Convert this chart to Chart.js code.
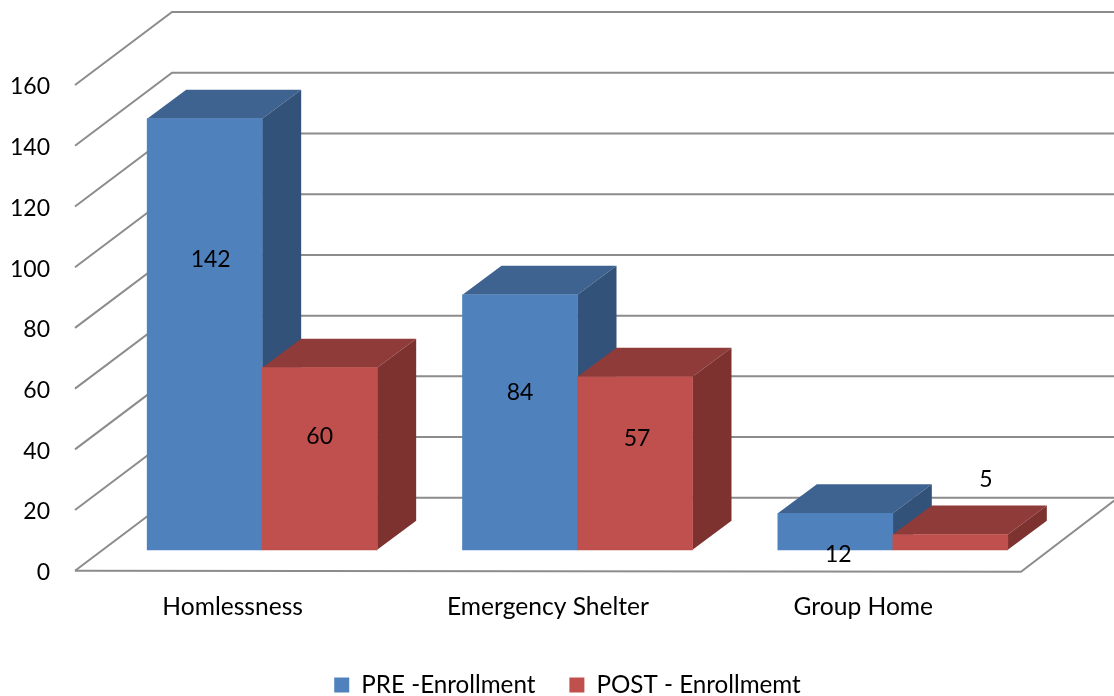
<!DOCTYPE html>
<html>
<head>
<meta charset="utf-8">
<style>
  html, body { margin: 0; padding: 0; background: #fff; overflow: hidden; }
  canvas { display: block; }
</style>
<script src="https://cdn.jsdelivr.net/npm/chart.js@4"></script>
</head>
<body>
<canvas id="chartEnroll" width="1114" height="696"></canvas>
<script>
const categories = ["Homlessness", "Emergency Shelter", "Group Home"];
const preValues = [142, 84, 12];
const postValues = [60, 57, 5];
const seriesNames = ["PRE -Enrollment", "POST - Enrollmemt"];
const tickStep = 20;
const tickMax = 160;

const FONT = "Lato";
const NUM_SIZE = 23;
const TEXT_SIZE = 24.6;
const LEGEND_SIZE = 24.2;
const GRID = "#8c8c8c";

// fake 3d geometry, in px
const WALL_DEPTH = { x: 97, y: -73 };
const BAR_DEPTH = { x: 39, y: -29 };
const BAR_SHIFT = { x: 29.5, y: -21 };

const topColors = ["#3e6390", "#8f3b39"];
const sideColors = ["#335279", "#7d3230"];

// the labels sit where they were dragged by hand in the original
const labelNudge = [
  [[6, -74.5], [0, -29.5], [3, 23]],
  [[0, -22], [2, -24.5], [35.5, -62.5]]
];

function face(ctx, points, color) {
  ctx.fillStyle = color;
  ctx.beginPath();
  points.forEach((p, i) => (i ? ctx.lineTo(p[0], p[1]) : ctx.moveTo(p[0], p[1])));
  ctx.closePath();
  ctx.fill();
}

const walls = {
  id: "walls",
  afterLayout(chart) {
    // legend box is tall because of its item padding, push it down to the edge
    chart.legend.top += 11;
    chart.legend.bottom += 11;
    chart.legend.left += 57;
    chart.legend.right += 57;
  },
  beforeDatasetsDraw(chart) {
    const { ctx, chartArea, scales } = chart;
    const { left, right } = chartArea;
    ctx.save();
    ctx.strokeStyle = GRID;
    ctx.lineWidth = 2;
    scales.y.ticks.forEach(t => {
      const y = scales.y.getPixelForValue(t.value);
      ctx.beginPath();
      ctx.moveTo(left, y);
      ctx.lineTo(left + WALL_DEPTH.x, y + WALL_DEPTH.y);
      ctx.lineTo(right + WALL_DEPTH.x, y + WALL_DEPTH.y);
      ctx.stroke();
    });
    // floor front edge and right edge
    const y0 = scales.y.getPixelForValue(0);
    ctx.beginPath();
    ctx.moveTo(left, y0);
    ctx.lineTo(right, y0 + 1);
    ctx.lineTo(right + WALL_DEPTH.x, y0 + WALL_DEPTH.y);
    ctx.stroke();
    ctx.restore();
  },
  // chart.js paints the last dataset first, here the red bars must come after the blue
  beforeDatasetDraw() {
    return false;
  },
  afterDatasetsDraw(chart) {
    const { ctx } = chart;
    ctx.save();
    ctx.translate(BAR_SHIFT.x, BAR_SHIFT.y);
    chart.data.datasets.forEach((ds, i) => {
      chart.getDatasetMeta(i).data.forEach(bar => {
        const p = bar.getProps(["x", "y", "base", "width"], true);
        const l = p.x - p.width / 2;
        const r = p.x + p.width / 2;
        const dx = BAR_DEPTH.x;
        const dy = BAR_DEPTH.y;
        face(ctx, [[l, p.y], [l + dx, p.y + dy], [r + dx, p.y + dy], [r, p.y]], topColors[i]);
        face(ctx, [[r, p.y], [r + dx, p.y + dy], [r + dx, p.base + dy], [r, p.base]], sideColors[i]);
        bar.draw(ctx);
      });
    });
    ctx.restore();

    ctx.save();
    ctx.fillStyle = "#000";
    ctx.font = NUM_SIZE + "px " + FONT;
    ctx.textAlign = "center";
    ctx.textBaseline = "middle";
    chart.data.datasets.forEach((ds, i) => {
      chart.getDatasetMeta(i).data.forEach((bar, j) => {
        const p = bar.getProps(["x", "y", "base"], true);
        const n = labelNudge[i][j];
        ctx.fillText(ds.data[j], p.x + BAR_SHIFT.x + n[0], (p.y + p.base) / 2 + BAR_SHIFT.y + n[1]);
      });
    });
    ctx.restore();
  }
};

new Chart(document.getElementById("chartEnroll").getContext("2d"), {
  type: "bar",
  data: {
    labels: categories,
    datasets: [
      { label: seriesNames[0], data: preValues, backgroundColor: "#4f81bd" },
      { label: seriesNames[1], data: postValues, backgroundColor: "#c0504d" }
    ]
  },
  options: {
    responsive: false,
    animation: false,
    devicePixelRatio: 1,
    clip: false,
    layout: { padding: { left: 0, right: 93, top: 85, bottom: 0 } },
    datasets: { bar: { barThickness: 115, categoryPercentage: 1, barPercentage: 1 } },
    scales: {
      x: {
        grid: { display: false, drawTicks: false },
        border: { display: false },
        ticks: { color: "#000", font: { family: FONT, size: TEXT_SIZE }, padding: 22, maxRotation: 0 },
        afterFit(axis) { axis.height = 57; }
      },
      y: {
        min: 0,
        max: tickMax,
        grid: { display: false, drawTicks: false },
        border: { display: false },
        ticks: { stepSize: tickStep, color: "#000", font: { family: FONT, size: NUM_SIZE }, padding: 25, labelOffset: 2 },
        afterFit(axis) { axis.width = 75; }
      }
    },
    plugins: {
      tooltip: { enabled: false },
      legend: {
        position: "bottom",
        labels: {
          boxWidth: 15,
          boxHeight: 15,
          padding: 34,
          color: "#000",
          font: { family: FONT, size: LEGEND_SIZE }
        }
      }
    }
  },
  plugins: [walls]
});
</script>
</body>
</html>
